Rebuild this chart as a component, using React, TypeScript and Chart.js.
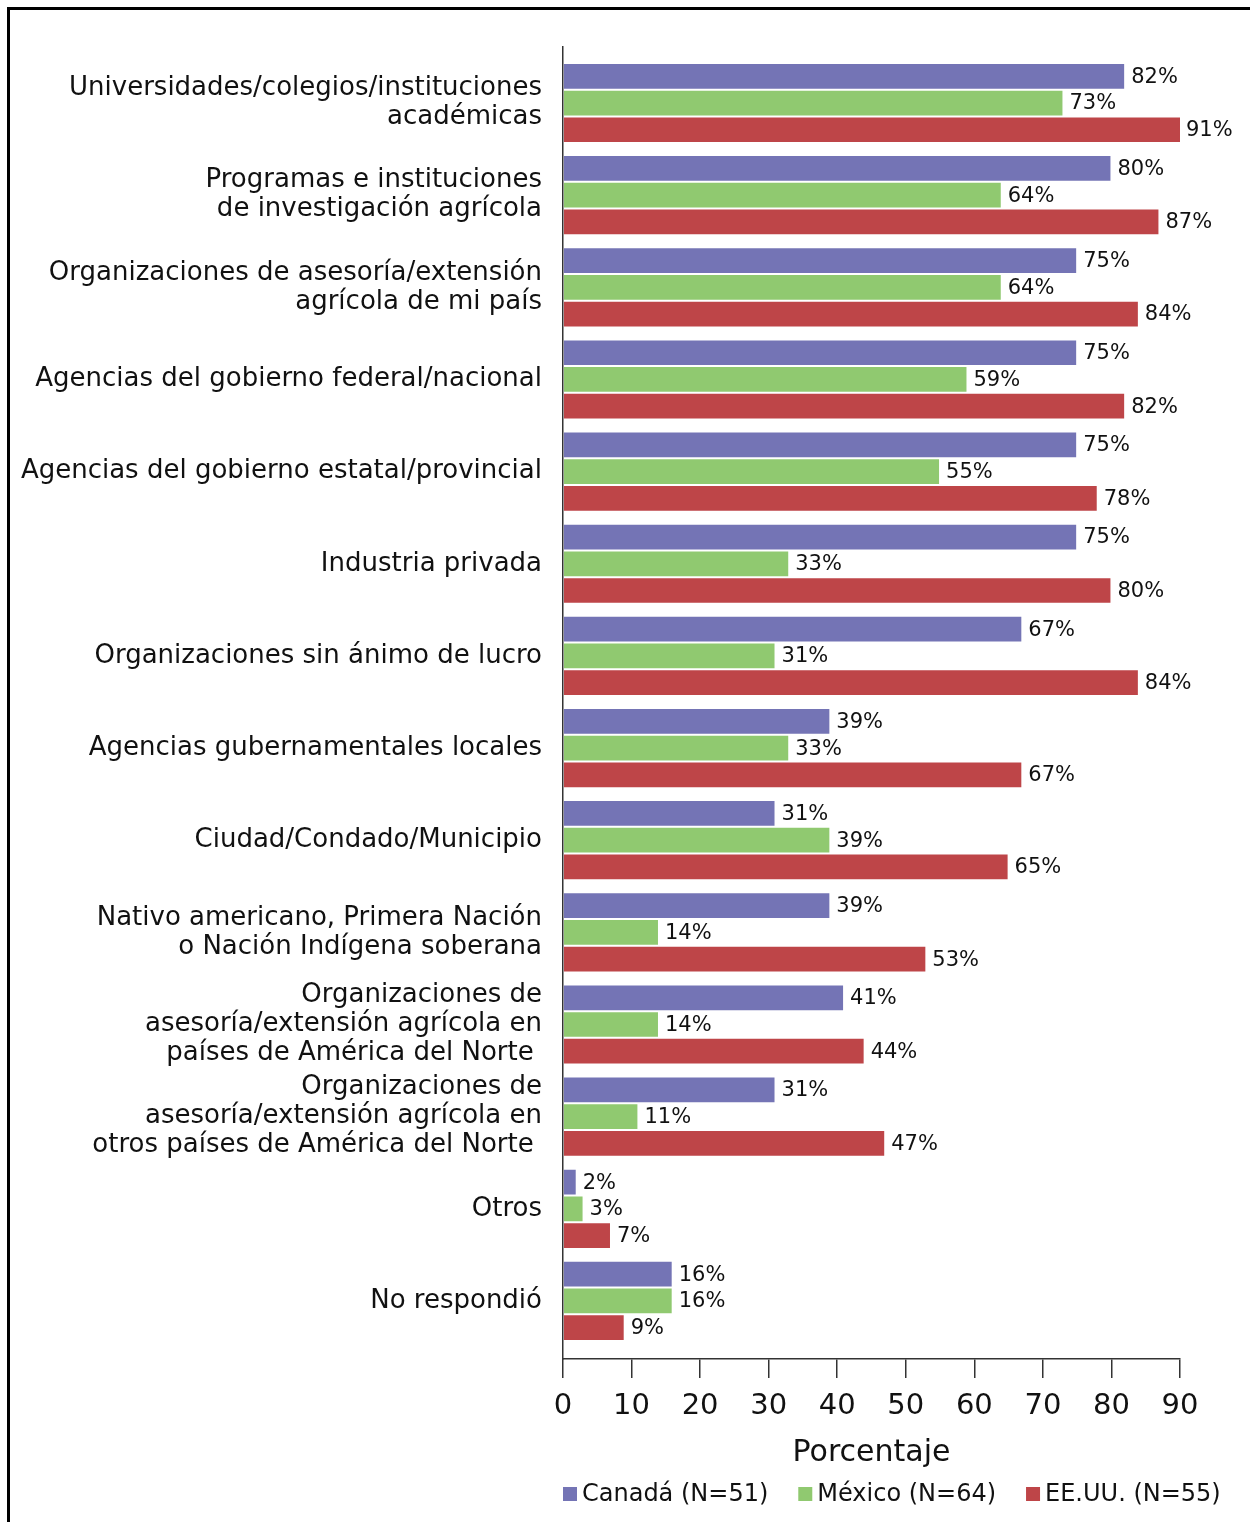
import React, { useEffect, useRef } from 'react';
import { Chart, registerables } from 'chart.js';

Chart.register(...registerables);

const categories: (string | string[])[] = [
  ['Universidades/colegios/instituciones', 'académicas'],
  ['Programas e instituciones', 'de investigación agrícola'],
  ['Organizaciones de asesoría/extensión', 'agrícola de mi país'],
  'Agencias del gobierno federal/nacional',
  'Agencias del gobierno estatal/provincial',
  'Industria privada',
  'Organizaciones sin ánimo de lucro',
  'Agencias gubernamentales locales',
  'Ciudad/Condado/Municipio',
  ['Nativo americano, Primera Nación', 'o Nación Indígena soberana'],
  ['Organizaciones de', 'asesoría/extensión agrícola en', 'países de América del Norte '],
  ['Organizaciones de', 'asesoría/extensión agrícola en', 'otros países de América del Norte '],
  'Otros',
  'No respondió',
];

const canada = [82, 80, 75, 75, 75, 75, 67, 39, 31, 39, 41, 31, 2, 16];
const mexico = [73, 64, 64, 59, 55, 33, 31, 33, 39, 14, 14, 11, 3, 16];
const usa = [91, 87, 84, 82, 78, 80, 84, 67, 65, 53, 44, 47, 7, 9];

const seriesNames = ['Canadá (N=51)', 'México (N=64)', 'EE.UU. (N=55)'];
const seriesColors = ['#7474B5', '#90C970', '#BE4548'];
const xTicks = [0, 10, 20, 30, 40, 50, 60, 70, 80, 90];
const axisTitle = 'Porcentaje';

const FONT = '"DejaVu Sans"';

const valueLabels = {
  id: 'valueLabels',
  afterDatasetsDraw(chart: any) {
    const ctx = chart.ctx;
    ctx.save();
    ctx.font = `21px ${FONT}`;
    ctx.fillStyle = '#111';
    ctx.textBaseline = 'middle';
    ctx.textAlign = 'left';
    chart.data.datasets.forEach((ds: any, di: number) => {
      const meta = chart.getDatasetMeta(di);
      meta.data.forEach((el: any, i: number) => {
        const v = ds.data[i].x;
        const x = Math.min(el.x, chart.chartArea.right);
        ctx.fillText(`${v}%`, x + 6, el.y + 1);
      });
    });
    ctx.restore();
  },
};

const customLegend = {
  id: 'customLegend',
  afterDraw(chart: any) {
    const ctx = chart.ctx;
    ctx.save();
    ctx.font = `24px ${FONT}`;
    ctx.textBaseline = 'middle';
    ctx.textAlign = 'left';
    let x = chart.chartArea.left;
    const y = 1494;
    chart.data.datasets.forEach((ds: any) => {
      ctx.fillStyle = ds.backgroundColor;
      ctx.fillRect(x, y - 7, 14, 14);
      ctx.fillStyle = '#111';
      ctx.fillText(ds.label, x + 19, y + 1);
      x += 19 + ctx.measureText(ds.label).width + 30;
    });
    ctx.restore();
  },
};

export default function App() {
  const ref = useRef<HTMLCanvasElement | null>(null);

  useEffect(() => {
    if (!ref.current) return;
    const series = [canada, mexico, usa];
    const chart = new Chart(ref.current, {
      type: 'bar',
      data: {
        datasets: series.map((vals, si) => ({
          label: seriesNames[si],
          data: vals.map((v, i) => ({ x: v, y: i })),
          backgroundColor: seriesColors[si],
          borderColor: 'rgba(255,255,255,0.35)',
          borderWidth: 1,
          categoryPercentage: 0.87,
          barPercentage: 1,
          clip: 0,
        })),
      },
      options: {
        indexAxis: 'y',
        responsive: false,
        animation: false,
        devicePixelRatio: 1,
        layout: { padding: { left: 12, right: 70, top: 47, bottom: 49 } },
        plugins: {
          legend: { display: false },
          tooltip: { enabled: false },
        },
        scales: {
          x: {
            type: 'linear',
            position: 'bottom',
            offset: false,
            min: 0,
            max: 90,
            afterBuildTicks: (scale: any) => {
              scale.ticks = xTicks.map((v) => ({ value: v }));
            },
            afterFit: (scale: any) => {
              scale.height = 114;
            },
            ticks: {
              autoSkip: false,
              maxRotation: 0,
              padding: 11,
              color: '#111',
              font: { family: FONT, size: 29 },
            },
            grid: {
              display: true,
              offset: false,
              drawOnChartArea: false,
              drawTicks: true,
              tickLength: 19,
              color: '#333',
              lineWidth: 1.5,
            },
            border: { display: true, color: '#333', width: 1.5 },
            title: {
              display: true,
              text: axisTitle,
              color: '#111',
              font: { family: FONT, size: 30 },
              padding: { top: 0, bottom: 2 },
            },
          },
          y: {
            type: 'linear',
            reverse: true,
            offset: false,
            min: -0.608,
            max: 13.63,
            afterBuildTicks: (scale: any) => {
              scale.ticks = categories.map((_, i) => ({ value: i }));
            },
            afterFit: (scale: any) => {
              scale.width = 551;
            },
            ticks: {
              autoSkip: false,
              padding: 21,
              color: '#111',
              font: { family: FONT, size: 26, lineHeight: 1.115 },
              callback: (value: any) => categories[Math.round(value)],
            },
            grid: { display: true, offset: false, drawOnChartArea: false, drawTicks: false },
            border: { display: true, color: '#333', width: 1.5 },
          },
        },
      } as any,
      plugins: [valueLabels, customLegend],
    });
    return () => chart.destroy();
  }, []);

  return (
    <div style={{ position: 'absolute', left: 0, top: 0, width: 1250, height: 1522, overflow: 'hidden', background: '#fff' }}>
      <canvas ref={ref} width={1250} height={1522} style={{ position: 'absolute', left: 0, top: 0 }} />
      <div
        style={{
          position: 'absolute',
          left: 7,
          top: 7,
          width: 1300,
          height: 1600,
          borderTop: '3px solid #000',
          borderLeft: '3px solid #000',
          pointerEvents: 'none',
        }}
      />
    </div>
  );
}
